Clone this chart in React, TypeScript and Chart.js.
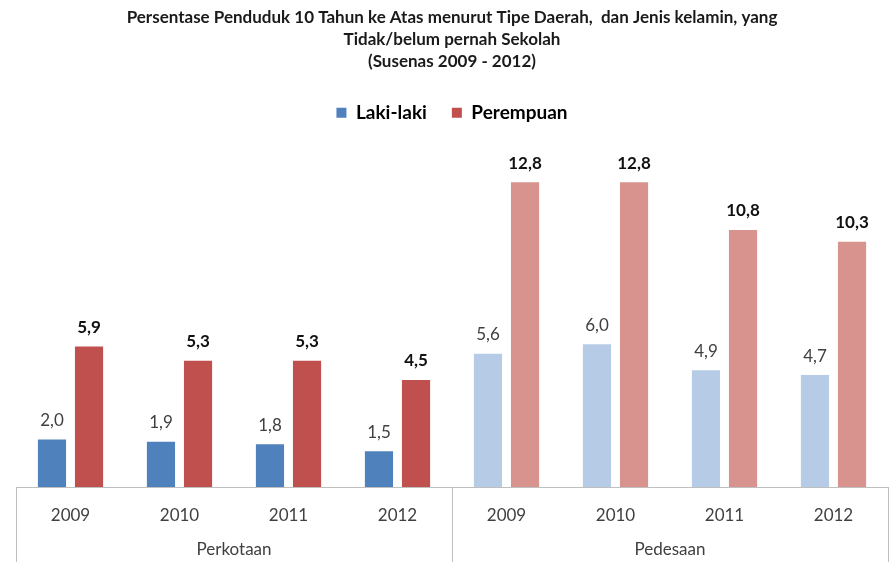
import React, { useEffect, useRef } from "react";
import { Chart, registerables } from "chart.js";

Chart.register(...registerables);

const years = ["2009", "2010", "2011", "2012", "2009", "2010", "2011", "2012"];
const groups = ["Perkotaan", "Pedesaan"];
const lakiLaki = [2.0, 1.9, 1.8, 1.5, 5.6, 6.0, 4.9, 4.7];
const perempuan = [5.9, 5.3, 5.3, 4.5, 12.8, 12.8, 10.8, 10.3];
const titleLines = [
  "Persentase Penduduk 10 Tahun ke Atas menurut Tipe Daerah,  dan Jenis kelamin, yang",
  "Tidak/belum pernah Sekolah",
  "(Susenas 2009 - 2012)",
];

const blueDark = "#4F81BD";
const blueLight = "#B6CCE6";
const redDark = "#C0504D";
const redLight = "#D9938F";

const FONT = "Lato, 'Open Sans', sans-serif";
const fmt = (v: number) => v.toFixed(1).replace(".", ",");

const valueLabels = {
  id: "valueLabels",
  afterDatasetsDraw(chart: any) {
    const ctx = chart.ctx;
    ctx.save();
    ctx.textAlign = "center";
    ctx.textBaseline = "middle";
    chart.data.datasets.forEach((ds: any, di: number) => {
      const meta = chart.getDatasetMeta(di);
      meta.data.forEach((el: any, i: number) => {
        if (di === 0) {
          ctx.font = "17px " + FONT;
          ctx.fillStyle = "#404040";
        } else {
          ctx.font = "bold 17px " + FONT;
          ctx.fillStyle = "#111111";
        }
        ctx.fillText(fmt(ds.data[i]), el.x, el.y - 19);
      });
    });
    ctx.restore();
  },
};

const axisFrame = {
  id: "axisFrame",
  afterDraw(chart: any) {
    const ctx = chart.ctx;
    const xs = chart.scales.x;
    const bottom = chart.chartArea.bottom;
    const h = chart.height;
    const mid = (xs.getPixelForValue(3) + xs.getPixelForValue(4)) / 2;
    ctx.save();
    ctx.strokeStyle = "#BFBFBF";
    ctx.lineWidth = 1;
    ctx.beginPath();
    ctx.moveTo(xs.left, Math.round(bottom) + 0.5);
    ctx.lineTo(xs.right, Math.round(bottom) + 0.5);
    [xs.left, mid, xs.right].forEach((x: number) => {
      const px = Math.round(x) + 0.5;
      ctx.moveTo(px, bottom);
      ctx.lineTo(px, h);
    });
    ctx.stroke();
    ctx.restore();
  },
};

export default function App() {
  const ref = useRef<HTMLCanvasElement | null>(null);
  useEffect(() => {
    document.body.style.margin = "0";
    const canvas = ref.current;
    if (!canvas) return;
    const chart = new Chart(canvas, {
      type: "bar",
      data: {
        labels: years,
        datasets: [
          {
            label: "Laki-laki",
            data: lakiLaki,
            backgroundColor: lakiLaki.map((_, i) => (i < 4 ? blueDark : blueLight)),
            categoryPercentage: 0.68,
            barPercentage: 0.76,
          },
          {
            label: "Perempuan",
            data: perempuan,
            backgroundColor: perempuan.map((_, i) => (i < 4 ? redDark : redLight)),
            categoryPercentage: 0.68,
            barPercentage: 0.76,
          },
        ],
      },
      options: {
        responsive: false,
        animation: false,
        layout: { padding: { left: 16, right: 1, top: 0, bottom: 0 } },
        plugins: {
          title: {
            display: true,
            text: titleLines,
            color: "#1a1a1a",
            font: { family: FONT, size: 17, weight: "bold", lineHeight: 1.3 },
            padding: { top: 6, bottom: 6 },
          },
          legend: {
            display: true,
            position: "top",
            labels: {
              generateLabels: () => [
                { text: "Laki-laki", fillStyle: blueDark, strokeStyle: blueDark, lineWidth: 0, datasetIndex: 0 },
                { text: "Perempuan", fillStyle: redDark, strokeStyle: redDark, lineWidth: 0, datasetIndex: 1 },
              ],
              boxWidth: 10,
              boxHeight: 10,
              padding: 25,
              color: "#1a1a1a",
              font: { family: FONT, size: 19, weight: "bold" },
            },
          },
          tooltip: { enabled: false },
        },
        scales: {
          x: {
            grid: { display: false, drawTicks: false },
            border: { display: false },
            ticks: {
              color: "#404040",
              font: { family: FONT, size: 17 },
              padding: 18,
            },
            afterFit: (s: any) => {
              s.height = 48;
            },
          },
          x2: {
            type: "category",
            labels: groups,
            position: "bottom",
            grid: { display: false, drawTicks: false },
            border: { display: false },
            ticks: {
              color: "#404040",
              font: { family: FONT, size: 17 },
              padding: 4,
            },
            afterFit: (s: any) => {
              s.height = 27;
            },
          },
          y: {
            display: false,
            min: 0,
            max: 14.9,
          },
        },
      },
      plugins: [valueLabels, axisFrame],
    } as any);
    return () => chart.destroy();
  }, []);
  return (
    <div style={{ width: 889, height: 562 }}>
      <canvas ref={ref} width={889} height={562} style={{ display: "block" }} />
    </div>
  );
}
